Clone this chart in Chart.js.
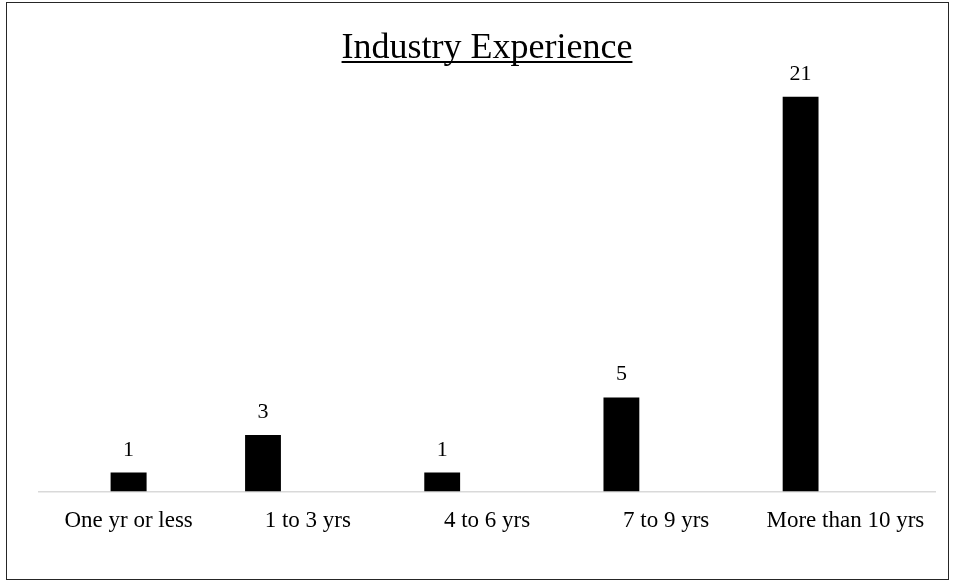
<!DOCTYPE html>
<html>
<head>
<meta charset="utf-8">
<title>Industry Experience</title>
<script src="https://cdn.jsdelivr.net/npm/chart.js@4.4.0/dist/chart.umd.min.js"></script>
<style>
  html, body { margin: 0; padding: 0; background: #fff; }
  #wrap { position: relative; width: 956px; height: 582px; }
  #frame { position: absolute; left: 6px; top: 2px; width: 941px; height: 576px; border: 1.5px solid #262626; pointer-events: none; }
</style>
</head>
<body>
<div id="wrap">
  <canvas id="chart" width="956" height="582"></canvas>
  <div id="frame"></div>
</div>
<script>
// Data
var categories = ['One yr or less', '1 to 3 yrs', '4 to 6 yrs', '7 to 9 yrs', 'More than 10 yrs'];
var responses = [1, 3, 1, 5, 21];
// empty second series from the sheet: it takes the right half of every slot but the first
var emptySeries = [null, 0, 0, 0, 0];
var chartTitle = 'Industry Experience';
var yMax = 22;

var serif = '"Liberation Serif", "Times New Roman", serif';

// Numbers above the bars
var valueLabels = {
    id: 'valueLabels',
    afterDatasetsDraw: function (chart) {
        var ctx = chart.ctx;
        var meta = chart.getDatasetMeta(0);
        ctx.save();
        ctx.font = '22px ' + serif;
        ctx.fillStyle = '#000';
        ctx.textAlign = 'center';
        ctx.textBaseline = 'alphabetic';
        meta.data.forEach(function (bar, i) {
            ctx.fillText(String(responses[i]), bar.x, bar.y - 17);
        });
        ctx.restore();
    }
};

// Underlined title
var underlinedTitle = {
    id: 'underlinedTitle',
    afterDraw: function (chart) {
        var ctx = chart.ctx;
        var area = chart.chartArea;
        var cx = (area.left + area.right) / 2;
        ctx.save();
        ctx.font = '36px ' + serif;
        ctx.fillStyle = '#000';
        ctx.textAlign = 'center';
        ctx.textBaseline = 'alphabetic';
        ctx.fillText(chartTitle, cx, 58);
        var w = ctx.measureText(chartTitle).width;
        ctx.fillRect(cx - w / 2, 61, w, 2);
        ctx.restore();
    }
};

var config = {
    type: 'bar',
    data: {
        labels: categories,
        datasets: [
            {
                label: 'Responses',
                data: responses,
                backgroundColor: '#000',
                borderWidth: 0,
                skipNull: true,
                categoryPercentage: 1,
                barPercentage: 0.4,
                maxBarThickness: 36
            },
            {
                label: '',
                data: emptySeries,
                backgroundColor: 'rgba(0,0,0,0)',
                borderWidth: 0,
                skipNull: true,
                categoryPercentage: 1,
                barPercentage: 0.4,
                maxBarThickness: 36
            }
        ]
    },
    options: {
        responsive: false,
        animation: false,
        layout: {
            padding: { left: 39, right: 21, top: 78, bottom: 31 }
        },
        plugins: {
            legend: { display: false },
            title: { display: false },
            tooltip: { enabled: false }
        },
        scales: {
            x: {
                grid: { display: false, drawTicks: false },
                border: { display: true, color: '#d9d9d9', width: 1.5 },
                ticks: {
                    color: '#000',
                    padding: 16,
                    maxRotation: 0,
                    font: { family: serif, size: 23 }
                }
            },
            y: {
                display: false,
                min: 0,
                max: yMax
            }
        }
    },
    plugins: [valueLabels, underlinedTitle]
};

new Chart(document.getElementById('chart'), config);
</script>
</body>
</html>
